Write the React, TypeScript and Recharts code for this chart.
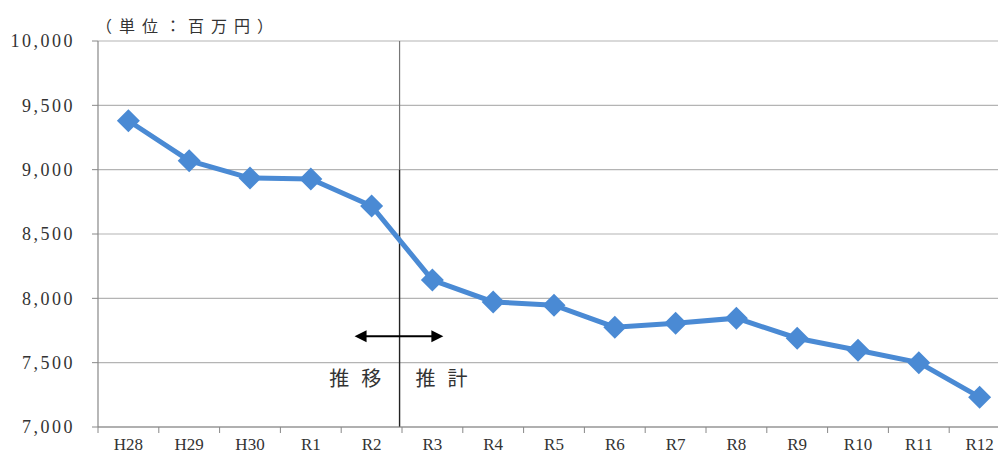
import { CartesianGrid, Line, LineChart, ReferenceDot, ReferenceLine, XAxis, YAxis } from "recharts";

const categories = ["H28", "H29", "H30", "R1", "R2", "R3", "R4", "R5", "R6", "R7", "R8", "R9", "R10", "R11", "R12"];
const values = [9380, 9070, 8935, 8928, 8718, 8142, 7972, 7947, 7776, 7807, 7846, 7690, 7597, 7500, 7232];
const yTicks = [7000, 7500, 8000, 8500, 9000, 9500, 10000];
const unitLabel = "（単位：百万円）";
const leftNote = "推移";
const rightNote = "推計";

if (typeof document !== "undefined") {
  document.body.style.margin = "0";
  document.body.style.overflow = "hidden";
}

const CHART_W = 1010;
const CHART_H = 456;
const Y_AXIS_W = 98;
const HALF_BAND = (CHART_W - Y_AXIS_W) / categories.length / 2;

const data = categories.map((name, i) => ({ idx: i, name, value: values[i] }));

const serif = '"Liberation Serif", "Noto Sans CJK JP", serif';

function formatThousands(v: number) {
  return v.toLocaleString("en-US");
}

function Diamond(props: any) {
  const { cx, cy, index } = props;
  if (cx == null || cy == null) return null;
  const r = 11.5;
  return (
    <polygon
      key={`d-${index}`}
      points={`${cx},${cy - r} ${cx + r},${cy} ${cx},${cy + r} ${cx - r},${cy}`}
      fill="#4a8ad4"
    />
  );
}

function XTick(props: any) {
  const { x, y, payload } = props;
  // y is the label position: axis + tickSize(6) + tickMargin(4)
  const axisY = y - 10;
  return (
    <g>
      <line x1={x - HALF_BAND} y1={axisY} x2={x - HALF_BAND} y2={axisY + 6} stroke="#888" />
      <text x={x} y={y + 13} textAnchor="middle" fontFamily={serif} fontSize={17} fill="#333">
        {categories[payload.value]}
      </text>
    </g>
  );
}

function ArrowShape(props: any) {
  const { x1, y1, x2, y2 } = props;
  if (x1 == null) return null;
  const head = 12;
  const hh = 6;
  return (
    <g>
      <line x1={x1 + head - 2} y1={y1} x2={x2 - head + 2} y2={y2} stroke="#000" strokeWidth={2} />
      <polygon points={`${x1},${y1} ${x1 + head},${y1 - hh} ${x1 + head},${y1 + hh}`} fill="#000" />
      <polygon points={`${x2},${y2} ${x2 - head},${y2 - hh} ${x2 - head},${y2 + hh}`} fill="#000" />
    </g>
  );
}

function NoteText(label: string) {
  return (props: any) => {
    const { cx, cy } = props;
    if (cx == null) return null;
    return (
      <text x={cx + 6} y={cy + 7} textAnchor="middle" fontFamily={serif} fontSize={20} letterSpacing={12} fill="#333">
        {label}
      </text>
    );
  };
}

export default function App() {
  return (
    <div style={{ position: "relative", width: 998, height: 456, overflow: "hidden", background: "#fff" }}>
      <div
        style={{
          position: "absolute",
          left: 96,
          top: 13,
          fontFamily: serif,
          fontSize: 16,
          letterSpacing: 7,
          color: "#333",
          whiteSpace: "nowrap",
        }}
      >
        {unitLabel}
      </div>
      <LineChart width={CHART_W} height={CHART_H} data={data} margin={{ top: 41, right: 0, bottom: 0, left: 0 }}>
        <CartesianGrid vertical={false} stroke="#b4b4b4" strokeWidth={1.2} />
        <XAxis
          dataKey="idx"
          type="number"
          domain={[-0.5, categories.length - 0.5]}
          ticks={categories.map((_, i) => i)}
          interval={0}
          allowDataOverflow
          height={29}
          tickSize={6}
          tickMargin={4}
          tickLine={false}
          axisLine={{ stroke: "#888", strokeWidth: 1.2 }}
          tick={<XTick />}
        />
        <YAxis
          domain={[7000, 10000]}
          ticks={yTicks}
          width={Y_AXIS_W}
          tickSize={6}
          tickMargin={17}
          tickFormatter={formatThousands}
          axisLine={{ stroke: "#888", strokeWidth: 1.2 }}
          tickLine={{ stroke: "#888" }}
          tick={{ fill: "#333", fontSize: 18, fontFamily: serif, letterSpacing: 2.5 }}
        />
        <ReferenceLine
          segment={[{ x: 4.46, y: 10000 }, { x: 4.46, y: 9000 }]}
          stroke="#777"
          strokeWidth={1.2}
        />
        <ReferenceLine
          segment={[{ x: 4.46, y: 9000 }, { x: 4.46, y: 7000 }]}
          stroke="#222"
          strokeWidth={1.4}
        />
        <ReferenceLine
          segment={[{ x: 3.72, y: 7705 }, { x: 5.18, y: 7705 }]}
          shape={ArrowShape}
        />
        <ReferenceDot x={3.73} y={7370} r={0} shape={NoteText(leftNote)} />
        <ReferenceDot x={5.15} y={7370} r={0} shape={NoteText(rightNote)} />
        <Line
          type="linear"
          dataKey="value"
          stroke="#4a8ad4"
          strokeWidth={5}
          dot={Diamond}
          activeDot={false}
          isAnimationActive={false}
        />
      </LineChart>
    </div>
  );
}
